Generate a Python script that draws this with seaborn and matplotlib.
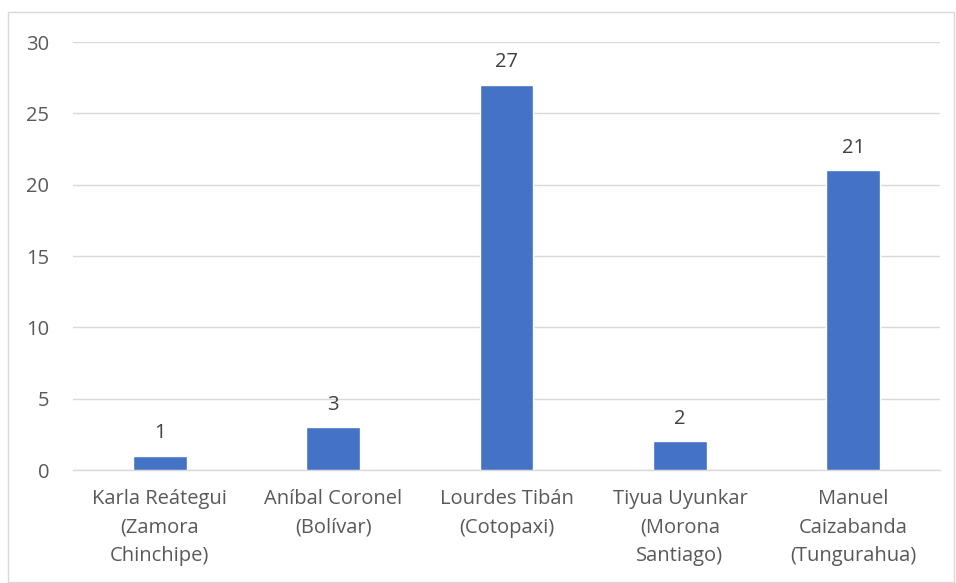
import matplotlib
matplotlib.use("Agg")
import matplotlib.pyplot as plt
import seaborn as sns
import pandas as pd
from matplotlib.patches import Rectangle

categories = ["Karla Reátegui\n(Zamora\nChinchipe)", "Aníbal Coronel\n(Bolívar)",
              "Lourdes Tibán\n(Cotopaxi)", "Tiyua Uyunkar\n(Morona\nSantiago)",
              "Manuel\nCaizabanda\n(Tungurahua)"]
values = [1, 3, 27, 2, 21]
yticks = [0, 5, 10, 15, 20, 25, 30]

sns.set_theme(style="white")
plt.rcParams['font.family'] = ['Open Sans', 'DejaVu Sans']

df = pd.DataFrame({"cat": categories, "val": values})
fig = plt.figure(figsize=(9.56, 5.83), dpi=100)
ax = fig.add_axes([73/956, 1-470/583, (940-73)/956, (470-42)/583])
sns.barplot(data=df, x="cat", y="val", color="#4472C4", width=0.31, saturation=1, ax=ax, zorder=3)
ax.set_ylim(0, 30)
ax.set_yticks(yticks)
ax.set_xlabel("")
ax.set_ylabel("")
ax.grid(axis="y", color="#d9d9d9", lw=1, zorder=0)
for s in ["top", "right", "left"]:
    ax.spines[s].set_visible(False)
ax.spines["bottom"].set_color("#d9d9d9")
ax.spines["bottom"].set_linewidth(1)
ax.tick_params(axis="both", length=0, colors="#595959", labelsize=14.5)
ax.tick_params(axis="x", pad=14)
ax.tick_params(axis="y", pad=17)
for lbl in ax.get_xticklabels():
    lbl.set_linespacing(1.55)
for c in ax.containers:
    ax.bar_label(c, labels=[str(v) for v in values], padding=9, color="#404040", fontsize=14.5)
fig.patches.append(Rectangle((8/956, 1/583), 946/956, 570/583, transform=fig.transFigure,
                             fill=False, edgecolor="#d9d9d9", lw=1))
fig.savefig("out.png", dpi=100)
